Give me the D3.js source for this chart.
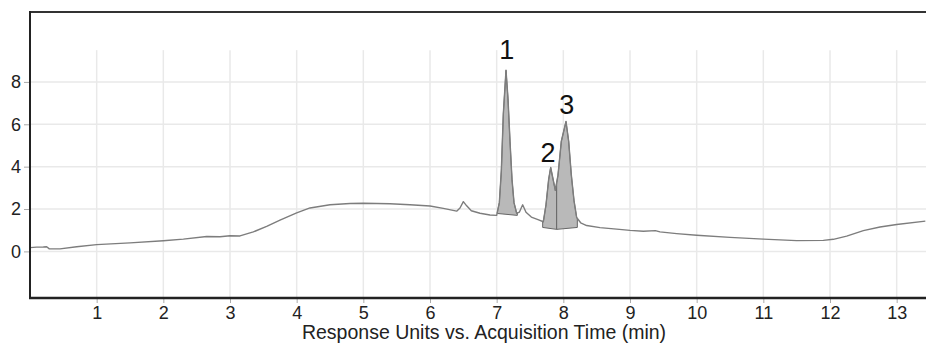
<!DOCTYPE html>
<html>
<head>
<meta charset="utf-8">
<script src="https://cdn.jsdelivr.net/npm/d3@7"></script>
<style>
  body { margin: 0; background: #fff; }
  svg { display: block; font-family: "Liberation Sans", Arial, sans-serif; }
</style>
</head>
<body>
<svg id="chart"></svg>
<script>
// Chromatogram trace (time in min, response units)
var times = [0.00, 0.10, 0.20, 0.25, 0.29, 0.45, 0.70, 1.00, 1.50, 2.00, 2.30, 2.65, 2.85, 3.00, 3.15,
  3.35, 3.55, 3.75, 4.00, 4.20, 4.50, 4.80, 5.00, 5.40, 5.70, 6.00, 6.20, 6.40, 6.45, 6.50, 6.55,
  6.62, 6.75, 6.90, 7.00, 7.04, 7.07, 7.10, 7.14, 7.17, 7.20, 7.23, 7.26, 7.30, 7.34, 7.39, 7.44,
  7.52, 7.62, 7.70, 7.74, 7.78, 7.81, 7.84, 7.88, 7.92, 7.97, 8.04, 8.08, 8.12, 8.16, 8.20, 8.26,
  8.35, 8.55, 8.80, 9.00, 9.20, 9.38, 9.45, 9.70, 10.00, 10.50, 11.00, 11.50, 11.90, 12.05, 12.25,
  12.50, 12.75, 13.00, 13.43];
var response = [0.18, 0.20, 0.21, 0.22, 0.12, 0.12, 0.22, 0.32, 0.40, 0.50, 0.58, 0.70, 0.69, 0.74, 0.73,
  0.92, 1.18, 1.48, 1.82, 2.05, 2.20, 2.26, 2.27, 2.25, 2.20, 2.14, 2.03, 1.90, 2.05, 2.35, 2.15,
  1.92, 1.80, 1.72, 1.70, 2.30, 3.80, 6.50, 8.55, 7.20, 5.20, 3.40, 2.30, 1.80, 1.85, 2.20, 1.85,
  1.62, 1.50, 1.40, 2.20, 3.40, 3.96, 3.50, 2.88, 3.60, 5.20, 6.13, 5.20, 3.60, 2.40, 1.60, 1.35,
  1.22, 1.12, 1.05, 0.99, 0.95, 0.98, 0.92, 0.84, 0.76, 0.66, 0.58, 0.51, 0.52, 0.57, 0.72,
  0.98, 1.15, 1.27, 1.43];

// Integrated peaks
var peakNames = ["1", "2", "3"];
var peakStart = [7.01, 7.69, 7.90];
var peakEnd = [7.31, 7.90, 8.21];
var baseStart = [1.79, 1.13, 1.04];
var baseEnd = [1.70, 1.04, 1.13];
var labelTime = [7.15, 7.77, 8.05];
var labelValue = [9.1, 4.2, 6.5];

var xTicks = [1, 2, 3, 4, 5, 6, 7, 8, 9, 10, 11, 12, 13];
var yTicks = [0, 2, 4, 6, 8];

var width = 926, height = 345;
var margin = {top: 12, right: 0, bottom: 47, left: 30};

var svg = d3.select("#chart")
  .attr("width", width)
  .attr("height", height);

var x = d3.scaleLinear()
  .domain([0, 13.44])
  .range([margin.left, width - margin.right]);

var y = d3.scaleLinear()
  .domain([-2.2, 11.3])
  .range([height - margin.bottom, margin.top]);

var points = times.map(function(t, i) { return [t, response[i]]; });

// grid
svg.append("g")
  .selectAll("line")
  .data(yTicks)
  .enter().append("line")
  .attr("x1", margin.left).attr("x2", width)
  .attr("y1", d => y(d)).attr("y2", d => y(d))
  .attr("stroke", "#e9e9e9").attr("stroke-width", 1.5);

svg.append("g")
  .selectAll("line")
  .data(xTicks)
  .enter().append("line")
  .attr("x1", d => x(d)).attr("x2", d => x(d))
  .attr("y1", y(9.5)).attr("y2", height - margin.bottom)
  .attr("stroke", "#e9e9e9").attr("stroke-width", 1.5);

// value of the trace at time t
function traceAt(t) {
  var i = d3.bisectLeft(times, t);
  if (i <= 0) return response[0];
  if (i >= times.length) return response[times.length - 1];
  var t0 = times[i - 1], t1 = times[i];
  var f = (t - t0) / (t1 - t0);
  return response[i - 1] + f * (response[i] - response[i - 1]);
}

var line = d3.line()
  .x(d => x(d[0]))
  .y(d => y(d[1]));

// peak fills
peakNames.forEach(function(name, k) {
  var poly = [[peakStart[k], traceAt(peakStart[k])]];
  points.forEach(function(p) {
    if (p[0] > peakStart[k] && p[0] < peakEnd[k]) poly.push(p);
  });
  poly.push([peakEnd[k], traceAt(peakEnd[k])]);
  poly.push([peakEnd[k], baseEnd[k]]);
  poly.push([peakStart[k], baseStart[k]]);
  svg.append("path")
    .attr("d", line(poly) + "Z")
    .attr("fill", "#b9b9b9")
    .attr("stroke", "#666")
    .attr("stroke-width", 1)
    .attr("stroke-linejoin", "round");
});

// trace
svg.append("path")
  .datum(points)
  .attr("d", line)
  .attr("fill", "none")
  .attr("stroke", "#7d7d7d")
  .attr("stroke-width", 1.4)
  .attr("stroke-linejoin", "round");

// peak labels
svg.append("g")
  .selectAll("text")
  .data(peakNames)
  .enter().append("text")
  .attr("x", (d, i) => x(labelTime[i]))
  .attr("y", (d, i) => y(labelValue[i]))
  .attr("text-anchor", "middle")
  .attr("font-size", 27)
  .attr("fill", "#111")
  .text(d => d);

// axes
var xAxis = svg.append("g")
  .attr("transform", `translate(0,${height - margin.bottom})`)
  .call(d3.axisBottom(x).tickValues(xTicks).tickSize(5).tickPadding(3).tickSizeOuter(0));
xAxis.select(".domain").remove();
xAxis.selectAll(".tick line").attr("stroke", "#aaa");
xAxis.selectAll(".tick text").attr("font-size", 18).attr("fill", "#222").attr("font-family", null);

var yAxis = svg.append("g")
  .attr("transform", `translate(${margin.left},0)`)
  .call(d3.axisLeft(y).tickValues(yTicks).tickSize(6).tickPadding(3).tickSizeOuter(0));
yAxis.select(".domain").remove();
yAxis.selectAll(".tick line").attr("stroke", "#aaa");
yAxis.selectAll(".tick text").attr("font-size", 18).attr("fill", "#222").attr("font-family", null);

// frame
svg.append("line")
  .attr("x1", margin.left).attr("x2", width)
  .attr("y1", margin.top).attr("y2", margin.top)
  .attr("stroke", "#333").attr("stroke-width", 2);
svg.append("line")
  .attr("x1", margin.left).attr("x2", margin.left)
  .attr("y1", margin.top - 1).attr("y2", height - margin.bottom)
  .attr("stroke", "#222").attr("stroke-width", 2);
svg.append("line")
  .attr("x1", margin.left - 1).attr("x2", width)
  .attr("y1", height - margin.bottom).attr("y2", height - margin.bottom)
  .attr("stroke", "#222").attr("stroke-width", 2.5);

svg.append("text")
  .attr("x", 484)
  .attr("y", 339)
  .attr("text-anchor", "middle")
  .attr("font-size", 19.5)
  .attr("fill", "#222")
  .text("Response Units vs. Acquisition Time (min)");
</script>
</body>
</html>
